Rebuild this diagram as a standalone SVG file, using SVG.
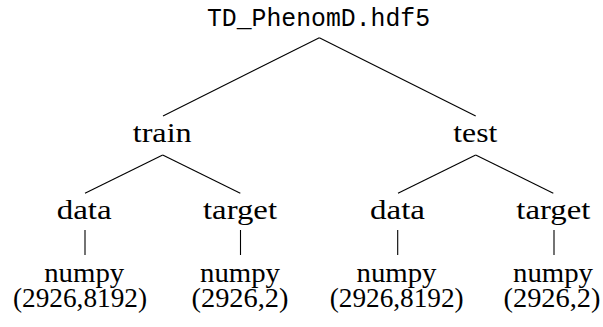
<svg xmlns="http://www.w3.org/2000/svg" width="603" height="327" viewBox="0 0 603 327">
  <style>
    .mono { font-family: 'Liberation Mono', 'DejaVu Sans Mono', monospace; font-size: 26px; fill: #000; text-anchor: middle; }
    .lbl { font-family: 'Liberation Serif', 'Times New Roman', 'DejaVu Serif', serif; font-size: 27px; fill: #000; text-anchor: middle; }
    .edge { stroke: #000; stroke-width: 1.1; fill: none; }
  </style>
  <rect width="603" height="327" fill="#fff"/>

  <g id="edges">
    <line class="edge" x1="319.3" y1="37.7" x2="163" y2="116"/>
    <line class="edge" x1="319.3" y1="37.7" x2="475.7" y2="116"/>
    <line class="edge" x1="162.7" y1="155" x2="85" y2="193.3"/>
    <line class="edge" x1="162.7" y1="155" x2="240.3" y2="193.3"/>
    <line class="edge" x1="475.7" y1="155" x2="398" y2="193.3"/>
    <line class="edge" x1="475.7" y1="155" x2="553.3" y2="193.3"/>
    <line class="edge" x1="85" y1="230" x2="85" y2="255"/>
    <line class="edge" x1="240.5" y1="230" x2="240.5" y2="255"/>
    <line class="edge" x1="397.7" y1="230" x2="397.7" y2="255"/>
    <line class="edge" x1="554" y1="230" x2="554" y2="255"/>
  </g>

  <g id="root">
    <text class="mono" x="318.5" y="25.5" textLength="223" lengthAdjust="spacingAndGlyphs">TD_PhenomD.hdf5</text>
  </g>

  <g id="train">
    <text class="lbl" x="162.2" y="141.7" textLength="59" lengthAdjust="spacingAndGlyphs">train</text>
  </g>
  <g id="test">
    <text class="lbl" x="475.3" y="141.7" textLength="44" lengthAdjust="spacingAndGlyphs">test</text>
  </g>

  <g id="train-data">
    <text class="lbl" x="84.2" y="219.3" textLength="55" lengthAdjust="spacingAndGlyphs">data</text>
  </g>
  <g id="train-target">
    <text class="lbl" x="240" y="219.3" textLength="74" lengthAdjust="spacingAndGlyphs">target</text>
  </g>
  <g id="test-data">
    <text class="lbl" x="397.5" y="219.3" textLength="55" lengthAdjust="spacingAndGlyphs">data</text>
  </g>
  <g id="test-target">
    <text class="lbl" x="553.3" y="219.3" textLength="74" lengthAdjust="spacingAndGlyphs">target</text>
  </g>

  <g id="train-data-array">
    <text class="lbl" x="84.2" y="281.7" textLength="80" lengthAdjust="spacingAndGlyphs">numpy</text>
    <text class="lbl" x="80" y="306.7" textLength="134" lengthAdjust="spacingAndGlyphs">(2926,8192)</text>
  </g>
  <g id="train-target-array">
    <text class="lbl" x="240" y="281.7" textLength="80" lengthAdjust="spacingAndGlyphs">numpy</text>
    <text class="lbl" x="240" y="306.7" textLength="97" lengthAdjust="spacingAndGlyphs">(2926,2)</text>
  </g>
  <g id="test-data-array">
    <text class="lbl" x="396.5" y="281.7" textLength="80" lengthAdjust="spacingAndGlyphs">numpy</text>
    <text class="lbl" x="396.7" y="306.7" textLength="134" lengthAdjust="spacingAndGlyphs">(2926,8192)</text>
  </g>
  <g id="test-target-array">
    <text class="lbl" x="553" y="281.7" textLength="80" lengthAdjust="spacingAndGlyphs">numpy</text>
    <text class="lbl" x="552" y="306.7" textLength="97" lengthAdjust="spacingAndGlyphs">(2926,2)</text>
  </g>
</svg>
